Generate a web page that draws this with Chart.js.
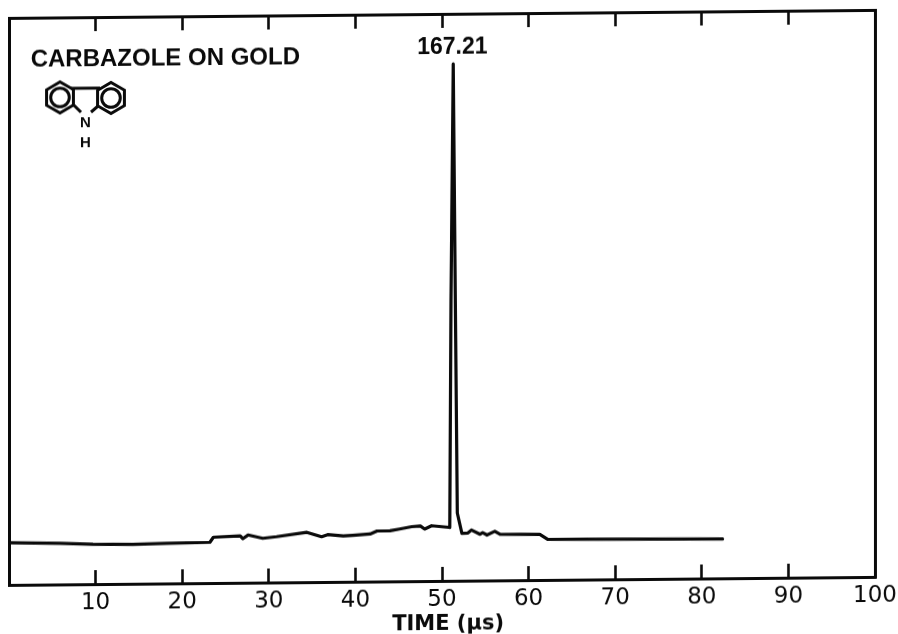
<!DOCTYPE html>
<html>
<head>
<meta charset="utf-8">
<style>
html,body{margin:0;padding:0;background:#fff;overflow:hidden;height:634px}
#c{display:block;transform:skewY(-0.53deg);transform-origin:0 0}
</style>
<script src="https://cdn.jsdelivr.net/npm/chart.js@4/dist/chart.umd.min.js"></script>
</head>
<body>
<canvas id="c" width="898" height="644"></canvas>
<script>
const timeValues = [0.1,5.9,9.7,14.3,18.2,23.2,23.6,26.7,27,27.6,29.3,30.9,34.4,36.1,36.8,38.6,39.7,41.7,42.5,44,45.1,46.5,47.5,48,48.8,50.8,50.9,51.04,51.3,51.54,51.77,52.3,53,53.4,54.4,54.7,55.2,56.1,56.7,61.3,62.2,82.4];
const signalValues = [7.44,7.26,7.03,6.96,7.08,7.19,8.07,8.25,7.77,8.41,7.81,8.07,8.79,7.99,8.34,8.08,8.19,8.39,8.91,8.94,9.22,9.61,9.72,9.18,9.75,9.44,9.43,49.5,91.15,49.5,11.95,8.37,8.41,8.93,8.16,8.44,8.02,8.66,8.13,8.06,7.17,6.93];
const tickLabels = [10,20,30,40,50,60,70,80,90,100];
const sampleTitle = "CARBAZOLE ON GOLD";
const peakLabel = "167.21";
const axisTitle = "TIME (\u00b5s)";
const ink = "#0a0a0a";
const fontFamily = "'Liberation Sans', Arial, sans-serif";

const fixedSize = size => scale => { scale.height = size; scale.paddingLeft = 0; scale.paddingRight = 0; };
const fixedWidth = size => scale => { scale.width = size; };

const overlay = {
  id: "overlay",
  afterDraw(chart) {
    const g = chart.ctx;
    const X = chart.scales.x, Y = chart.scales.y;
    g.save();
    g.fillStyle = ink; g.strokeStyle = ink; g.textBaseline = "middle";
    g.font = "bold 24px " + fontFamily; g.textAlign = "left";
    g.fillText(sampleTitle, X.getPixelForValue(2.5), Y.getPixelForValue(92.6));
    g.font = "600 23px " + fontFamily; g.textAlign = "center";
    g.fillText(peakLabel, X.getPixelForValue(51.2), Y.getPixelForValue(94.0));
    g.font = "bold 21px 'DejaVu Sans', " + fontFamily;
    g.fillText(axisTitle, X.getPixelForValue(50.7), 629);
    // carbazole structure icon
    const hex = (cx, cy, r) => {
      g.beginPath();
      for (let i = 0; i < 6; i++) {
        const a = Math.PI / 6 + i * Math.PI / 3;
        g[i ? "lineTo" : "moveTo"](cx + r * Math.cos(a), cy + r * Math.sin(a));
      }
      g.closePath(); g.stroke();
      g.beginPath(); g.arc(cx, cy, r * 0.6, 0, 2 * Math.PI); g.stroke();
    };
    g.lineWidth = 3;
    hex(60, 98, 15.5); hex(111, 99, 15.5);
    g.beginPath();
    g.moveTo(71, 89); g.lineTo(100, 89);
    g.moveTo(74, 106); g.lineTo(81, 113);
    g.moveTo(98, 107); g.lineTo(91, 113);
    g.stroke();
    g.font = "bold 15px " + fontFamily;
    g.fillText("N", 85.5, 124); g.fillText("H", 85.5, 144);
    g.restore();
  }
};

const xGrid = { drawOnChartArea: false, drawTicks: true, tickLength: -14, tickWidth: 2.6, tickColor: ink };
const edge = { display: true, color: ink, width: 3 };

new Chart(document.getElementById("c"), {
  type: "scatter",
  data: { datasets: [{
    data: timeValues.map((t, i) => ({ x: t, y: signalValues[i] })),
    showLine: true, borderColor: ink, borderWidth: 3.2, pointRadius: 0, tension: 0,
    borderJoinStyle: "round", borderCapStyle: "round"
  }]},
  options: {
    responsive: false, animation: false,
    layout: { padding: { left: 9, right: 23, top: 0, bottom: 10 } },
    plugins: { legend: { display: false }, tooltip: { enabled: false } },
    scales: {
      x: {
        type: "linear", position: "bottom", min: 0, max: 100,
        afterBuildTicks: s => { s.ticks = tickLabels.map(v => ({ value: v })); },
        afterFit: fixedSize(49),
        grid: xGrid, border: edge,
        ticks: { display: true, autoSkip: false, maxRotation: 0, padding: 19, color: ink,
                 font: { family: "'DejaVu Sans', sans-serif", size: 23 } }
      },
      xTop: {
        type: "linear", position: "top", min: 0, max: 100,
        afterBuildTicks: s => { s.ticks = tickLabels.map(v => ({ value: v })); },
        afterFit: fixedSize(18),
        grid: xGrid, border: edge,
        ticks: { display: false }
      },
      y: {
        type: "linear", position: "left", min: 0, max: 100,
        afterFit: fixedWidth(0),
        grid: { display: false }, border: edge, ticks: { display: false }
      },
      yRight: {
        type: "linear", position: "right", min: 0, max: 100,
        afterFit: fixedWidth(0),
        grid: { display: false }, border: edge, ticks: { display: false }
      }
    }
  },
  plugins: [overlay]
});
</script>
</body>
</html>
